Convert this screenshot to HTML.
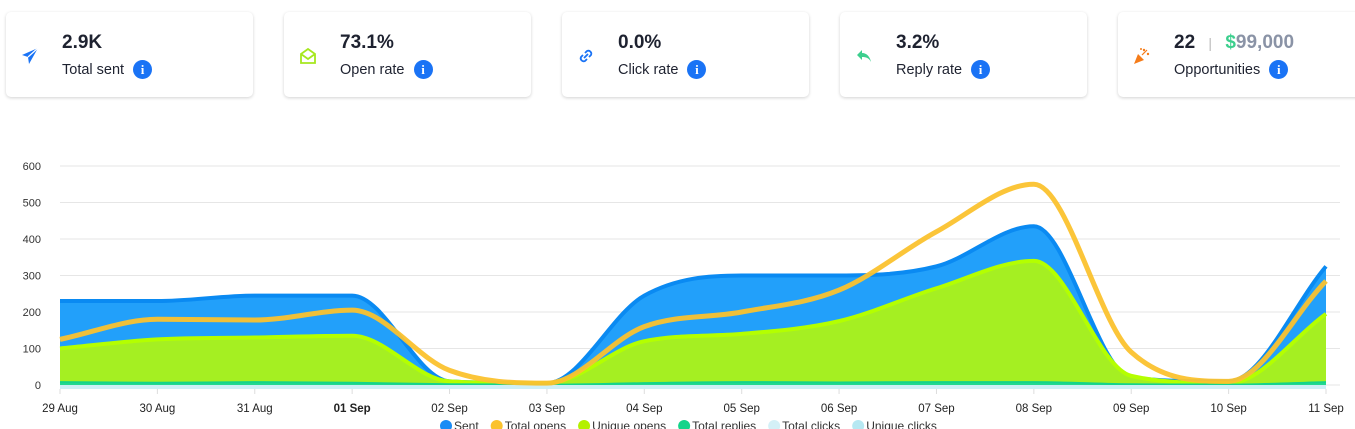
<!DOCTYPE html>
<html><head><meta charset="utf-8"><style>
body{margin:0;width:1355px;height:429px;overflow:hidden;background:#fff;font-family:"Liberation Sans",sans-serif;position:relative}
.card{position:absolute;top:12px;height:85px;width:247px;background:#fff;border-radius:5px;box-shadow:0 1px 3px rgba(0,0,0,.18)}
.ic{position:absolute;left:14px;top:34px;width:20px;height:20px}
.val{position:absolute;left:56px;top:20px;font-size:19px;font-weight:bold;color:#1e2230}
.lab{position:absolute;left:56px;top:48px;font-size:14.5px;color:#1e2230;display:flex;align-items:center}
.info{display:inline-block;width:19px;height:19px;border-radius:50%;background:#1a73f5;color:#fff;font-size:13px;font-weight:bold;text-align:center;line-height:19px;margin-left:9px;font-family:"Liberation Serif",serif}
</style></head><body>
<div class="card" style="left:6px">
<svg class="ic" viewBox="0 0 20 20"><path d="M18 2 L2 9 L8 11 L9 18 Z" fill="#1a73f5"/><path d="M8 11 L18 2" stroke="#fff" stroke-width="1.2"/></svg>
<div class="val">2.9K</div>
<div class="lab">Total sent<span class="info">i</span></div></div>
<div class="card" style="left:284px">
<svg class="ic" viewBox="0 0 20 20"><path d="M3 8 L10 3 L17 8 L17 17 L3 17 Z M3 8 L10 13 L17 8" fill="none" stroke="#a6e81e" stroke-width="1.8"/></svg>
<div class="val">73.1%</div>
<div class="lab">Open rate<span class="info">i</span></div></div>
<div class="card" style="left:562px">
<svg class="ic" viewBox="0 0 20 20"><path d="M9 7 L11 5 A3 3 0 0 1 15 9 L13 11 M11 13 L9 15 A3 3 0 0 1 5 11 L7 9 M8 12 L12 8" fill="none" stroke="#1a73f5" stroke-width="1.8"/></svg>
<div class="val">0.0%</div>
<div class="lab">Click rate<span class="info">i</span></div></div>
<div class="card" style="left:840px">
<svg class="ic" viewBox="0 0 20 20"><path d="M8 4 L3 9 L8 14 L8 11 C12 11 15 12 17 16 C16 11 13 7 8 7 Z" fill="#3ccf8e"/></svg>
<div class="val">3.2%</div>
<div class="lab">Reply rate<span class="info">i</span></div></div>
<div class="card" style="left:1118px;width:260px">
<svg class="ic" viewBox="0 0 20 20"><path d="M2 18 L6 8 L12 14 Z" fill="#f57c1a"/><circle cx="12" cy="4" r="1.2" fill="#f57c1a"/><circle cx="16" cy="8" r="1.2" fill="#f57c1a"/><circle cx="9" cy="3" r="1" fill="#f57c1a"/><path d="M10 9 L15 4" stroke="#f57c1a" stroke-width="1.2"/></svg>
<div class="val">22 <span style="color:#bbb;font-weight:normal;font-size:14px;margin:0 8px">|</span> <span style="color:#3ccf8e">$</span><span style="color:#8a93a6">99,000</span></div>
<div class="lab">Opportunities<span class="info">i</span></div></div>
<svg id="chart" width="1355" height="429" style="position:absolute;left:0;top:0"></svg>
<script>
const categories=["29 Aug","30 Aug","31 Aug","01 Sep","02 Sep","03 Sep","04 Sep","05 Sep","06 Sep","07 Sep","08 Sep","09 Sep","10 Sep","11 Sep"];
const sentValues=[230,230,245,245,10,5,245,300,300,325,435,20,10,325];
const totalOpensValues=[125,180,178,205,40,5,160,200,260,420,550,90,10,285];
const uniqueOpensValues=[100,125,130,135,10,5,120,140,175,265,340,25,5,195];
const totalRepliesValues=[8,6,8,6,2,1,5,8,7,8,8,2,1,8];
const yTicks=[0,100,200,300,400,500,600];
const NS="http://www.w3.org/2000/svg";
const svg=document.getElementById('chart');
const x0=60,x1=1326,yBase=385,yTop=166;
const xs=i=>x0+i*(x1-x0)/(categories.length-1);
const ys=v=>yBase-v*(yBase-yTop)/600;
function el(t,a){const e=document.createElementNS(NS,t);for(const k in a)e.setAttribute(k,a[k]);svg.appendChild(e);return e;}
function mono(vals){const n=vals.length,X=vals.map((_,i)=>xs(i)),Y=vals.map(ys);const d=[],m=[];
for(let i=0;i<n-1;i++)d.push((Y[i+1]-Y[i])/(X[i+1]-X[i]));
for(let i=0;i<n;i++){if(i==0)m.push(d[0]);else if(i==n-1)m.push(d[n-2]);else m.push(d[i-1]*d[i]<=0?0:(d[i-1]+d[i])/2);}
for(let i=0;i<n-1;i++){if(d[i]==0){m[i]=m[i+1]=0;continue;}const a=m[i]/d[i],b=m[i+1]/d[i],s=a*a+b*b;if(s>9){const t=3/Math.sqrt(s);m[i]=t*a*d[i];m[i+1]=t*b*d[i];}}
let p=`M${X[0]},${Y[0]}`;for(let i=0;i<n-1;i++){const h=(X[i+1]-X[i])/3;p+=` C${X[i]+h},${Y[i]+m[i]*h} ${X[i+1]-h},${Y[i+1]-m[i+1]*h} ${X[i+1]},${Y[i+1]}`;}return p;}
yTicks.forEach(v=>{const g=el('line',{x1:x0,x2:1340,y1:ys(v),y2:ys(v),stroke:'#e6e6e6','stroke-width':1});

const t=el('text',{x:41,y:ys(v)+4,'text-anchor':'end','font-size':11,fill:'#333'});t.textContent=v;
});
function area(vals,fill,stroke,sw,name){const p=mono(vals);
const a=el('path',{d:p+` L${xs(vals.length-1)},${yBase} L${x0},${yBase} Z`,fill:fill});

const l=el('path',{d:p,fill:'none',stroke:stroke,'stroke-width':sw});
}
area(sentValues,'#22a0fa','#0a8af2',4,'sent');
area(uniqueOpensValues,'#a5ef22','#b4ff00',4,'unique-opens');
area(totalRepliesValues,'#23d88f','#14d48a',2,'total-replies');
const bl=el('rect',{x:x0,y:yBase,width:x1-x0,height:4,fill:'#cdeff6'});

const ol=el('path',{d:mono(totalOpensValues),fill:'none',stroke:'#fbc22e','stroke-width':5,'stroke-opacity':0.95});

categories.forEach((c,i)=>{const tk=el('line',{x1:xs(i),x2:xs(i),y1:389,y2:394,stroke:'#ddd'});

const t=el('text',{x:xs(i),y:412,'text-anchor':'middle','font-size':11.5,fill:'#222','font-weight':c=='01 Sep'?'bold':'normal'});t.textContent=c;
});
const legend=[["Sent","#1a8cf5"],["Total opens","#fbc22e"],["Unique opens","#b4f000"],["Total replies","#14d48a"],["Total clicks","#d4f0f7"],["Unique clicks","#b6e8f2"]];
let lx=440;legend.forEach(([n,c])=>{const g=el('g',{});
const ci=document.createElementNS(NS,'circle');ci.setAttribute('cx',lx+6);ci.setAttribute('cy',426);ci.setAttribute('r',6);ci.setAttribute('fill',c);g.appendChild(ci);
const t=document.createElementNS(NS,'text');t.setAttribute('x',lx+14);t.setAttribute('y',430);t.setAttribute('font-size',12);t.setAttribute('fill','#333');t.textContent=n;g.appendChild(t);
lx+=14+t.getComputedTextLength()+12;});
</script>
</body></html>
